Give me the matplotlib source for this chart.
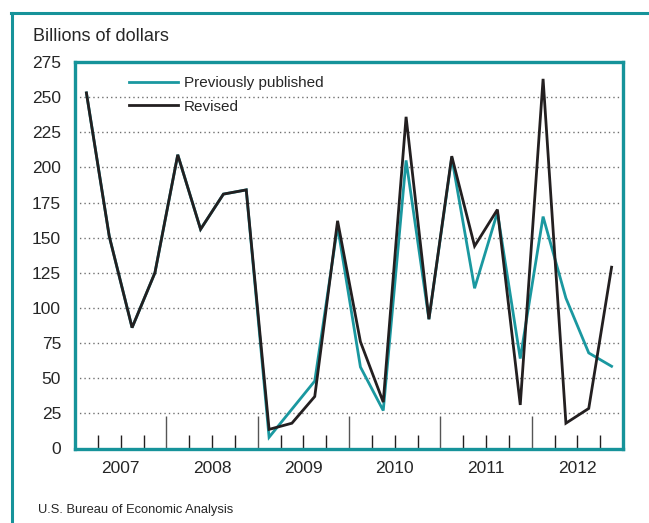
import matplotlib
matplotlib.use("Agg")
import matplotlib.pyplot as plt
from matplotlib.lines import Line2D

plt.rcParams['font.family'] = ['Liberation Sans', 'DejaVu Sans']

quarters = ["2007Q1", "2007Q2", "2007Q3", "2007Q4",
            "2008Q1", "2008Q2", "2008Q3", "2008Q4",
            "2009Q1", "2009Q2", "2009Q3", "2009Q4",
            "2010Q1", "2010Q2", "2010Q3", "2010Q4",
            "2011Q1", "2011Q2", "2011Q3", "2011Q4",
            "2012Q1", "2012Q2", "2012Q3", "2012Q4"]
years = ["2007", "2008", "2009", "2010", "2011", "2012"]

revised = [253, 151, 86, 125, 209, 156, 181, 184,
           13.6, 18, 37, 162, 76, 33, 236, 92,
           208, 144, 170, 31, 263, 18, 28.5, 129]
previously_published = [253, 151, 86, 125, 209, 156, 181, 184,
                        8, 28, 48, 158, 58, 27, 205, 92,
                        207, 114, 168, 64, 165, 107, 68, 58.5]

yticks = [0, 25, 50, 75, 100, 125, 150, 175, 200, 225, 250, 275]

TEAL = "#16939a"
LINE_TEAL = "#1a98a0"
DARK = "#231f20"
TEXT = "#262626"

fig = plt.figure(figsize=(6.49, 5.23), dpi=100)
ax = fig.add_axes([75/649, 1-448.5/523, 548/649, 386.5/523])

x = list(range(len(quarters)))
ax.plot(x, previously_published, color=LINE_TEAL, lw=2.0, solid_joinstyle='miter', zorder=3)
ax.plot(x, revised, color=DARK, lw=2.0, solid_joinstyle='miter', zorder=4)

ax.set_xlim(-0.5, len(quarters) - 0.5)
ax.set_ylim(0, 275)

# gridlines
for v in yticks[1:-1]:
    ax.axhline(v, color="#707070", lw=1.0, ls=(0, (1, 2.2)), zorder=1)

# quarter/year tick marks at the bottom
for k in range(len(quarters) - 1):
    b = k + 0.5
    if (k + 1) % 4 == 0:
        ax.vlines(b, 0, 23, color="#555555", lw=1.0, zorder=2)
    else:
        ax.vlines(b, 0, 9.3, color=DARK, lw=1.0, zorder=2)

ax.set_yticks(yticks)
ax.set_yticklabels([str(v) for v in yticks], fontsize=12.5, color=TEXT)
ax.tick_params(axis='y', length=0, pad=10)
ax.set_xticks([4 * i + 1.5 for i in range(len(years))])
ax.set_xticklabels(years, fontsize=12.5, color=TEXT)
ax.tick_params(axis='x', length=0, pad=9)

for s in ax.spines.values():
    s.set_color(TEAL)
    s.set_linewidth(2.4)

handles = [Line2D([], [], color=LINE_TEAL, lw=2.0), Line2D([], [], color=DARK, lw=2.0)]
leg = ax.legend(handles, ["Previously published", "Revised"], loc='upper left',
                bbox_to_anchor=(0.0874, 0.979), frameon=False, fontsize=11,
                handlelength=3.2, handletextpad=0.4, labelspacing=0.62,
                borderaxespad=0)
for t in leg.get_texts():
    t.set_color(TEXT)

fig.text(33/649, 1-36/523, "Billions of dollars", fontsize=13, color=TEXT,
         ha='left', va='center')
fig.text(38/649, 1-510/523, "U.S. Bureau of Economic Analysis", fontsize=9.3, color=TEXT,
         ha='left', va='center')

# outer frame (left and top edges visible)
fig.add_artist(Line2D([11.5/649, 11.5/649], [0, 1-12.5/523], color=TEAL, lw=2.2,
                      transform=fig.transFigure))
fig.add_artist(Line2D([10.5/649, 1], [1-12.5/523, 1-12.5/523], color=TEAL, lw=2.2,
                      transform=fig.transFigure))

fig.savefig("out.png", dpi=100)
